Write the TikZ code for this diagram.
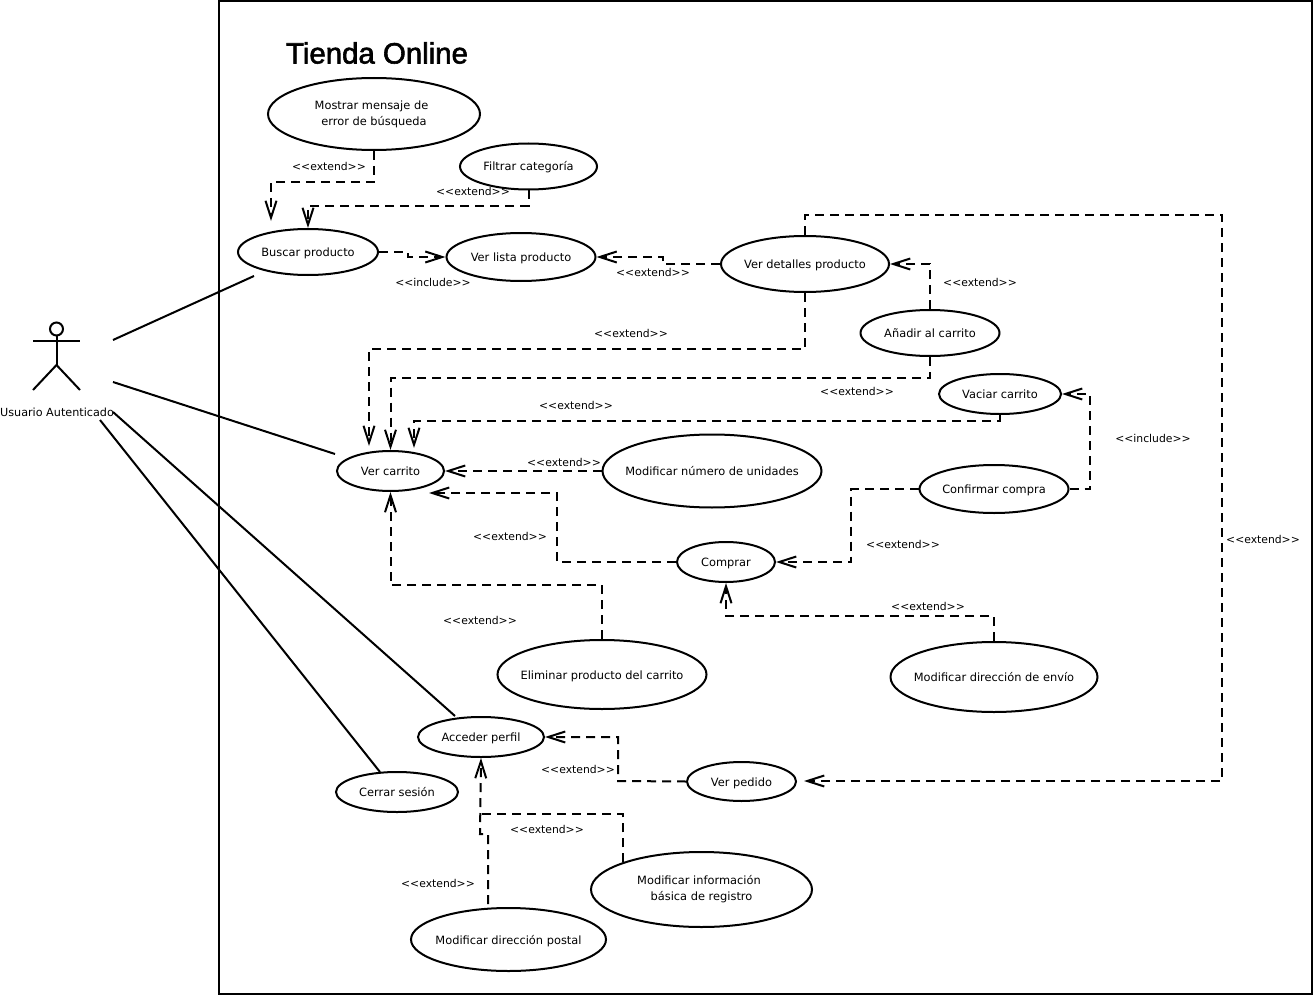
\documentclass[tikz,border=0pt]{standalone}
\usepackage{fontspec}
\setmainfont{DejaVu Sans}
\newfontfamily\titlefont[FakeBold=2]{Liberation Sans}
\usetikzlibrary{shapes.geometric,arrows.meta}
\newcommand{\stereotype}[1]{<{}<#1>{}>}
\tikzset{
  usecase/.style={draw,ellipse,line width=2pt,inner ysep=0pt,inner xsep=-20pt,align=center,font=\fontsize{11.4}{16}\selectfont},
  singlecase/.style={usecase,text height=10pt,text depth=1pt},
  assoc/.style={line width=2pt},
  depline/.style={line width=2pt,dash pattern=on 9pt off 6pt,-{Straight Barb[length=17pt,width=11pt,line width=2pt]}},
  deplabel/.style={inner sep=0pt,font=\fontsize{10.8}{14}\selectfont},
  actorlabel/.style={inner sep=0pt,font=\fontsize{11.2}{14}\selectfont}
}
\begin{document}
\begin{tikzpicture}[x=1pt,y=-1pt]
\useasboundingbox (0,0) rectangle (1314,995);
\draw [line width=2pt] (219,1) rectangle (1312,994);
\node (title) at (377,53) [inner sep=0pt,font=\titlefont\fontsize{29.4}{32}\selectfont] {Tienda Online};

     %actor:
\begin{scope}[line width=2pt]
\draw (56.5,329) circle (6.5);
\draw (33,340.5) -- (80,340.5);
\draw (56.5,335.5) -- (56.5,365);
\draw (33,390) -- (56.5,365) -- (80,390);
\end{scope}
\node (usuario) at (57,412) [actorlabel] {Usuario Autenticado};

     %use cases:
\node (mostrar) at (374,114) [usecase,minimum width=212,minimum height=72] {Mostrar mensaje de\rule{5pt}{0pt}\\ error de búsqueda};
\node (filtrar) at (528.5,166.5) [singlecase,minimum width=137,minimum height=46] {Filtrar categoría};
\node (buscar) at (308,252) [singlecase,minimum width=140,minimum height=46] {Buscar producto};
\node (lista) at (521,257) [singlecase,minimum width=149,minimum height=48] {Ver lista producto};
\node (detalles) at (805,264) [singlecase,minimum width=168,minimum height=56] {Ver detalles producto};
\node (anadir) at (930,333) [singlecase,minimum width=139,minimum height=46] {Añadir al carrito};
\node (vaciar) at (1000,394) [singlecase,minimum width=122,minimum height=40] {Vaciar carrito};
\node (carrito) at (390.5,471) [singlecase,minimum width=107,minimum height=40] {Ver carrito};
\node (unidades) at (712,471) [singlecase,minimum width=219,minimum height=73] {Modificar número de unidades};
\node (confirmar) at (994,489) [singlecase,minimum width=149,minimum height=48] {Confirmar compra};
\node (comprar) at (726,562) [singlecase,minimum width=98,minimum height=40] {Comprar};
\node (eliminar) at (602,674.5) [singlecase,minimum width=209,minimum height=69] {Eliminar producto del carrito};
\node (envio) at (994,677) [singlecase,minimum width=207,minimum height=70] {Modificar dirección de envío};
\node (acceder) at (481,737) [singlecase,minimum width=126,minimum height=40] {Acceder perfil};
\node (pedido) at (741.5,781.5) [singlecase,minimum width=109,minimum height=39] {Ver pedido};
\node (cerrar) at (397,792) [singlecase,minimum width=122,minimum height=40] {Cerrar sesión};
\node (registro) at (701.5,889.5) [usecase,minimum width=221,minimum height=75] {Modificar información\rule{5pt}{0pt}\\ básica de registro};
\node (postal) at (508.5,939.5) [singlecase,minimum width=195,minimum height=63] {Modificar dirección postal};

     %free ends:
\coordinate (actorbuscar) at (113,340);
\coordinate (actorcarrito) at (113,382);
\coordinate (actoracceder) at (113,412);
\coordinate (actorcerrar) at (100,420);
\coordinate (buscarend) at (254,276);
\coordinate (carritoend) at (335,454);
\coordinate (accederend) at (455,716);
\coordinate (cerrarend) at (380,772);
\coordinate (mostrartip) at (271,221);
\coordinate (detallestip) at (369,446);
\coordinate (vaciartip) at (414,448);
\coordinate (compratip) at (429,493);
\coordinate (pedidotip) at (804,781);
\coordinate (postalstart) at (488,904);

\draw [assoc] (actorbuscar) -- (buscarend);
\draw [assoc] (actorcarrito) -- (carritoend);
\draw [assoc] (actoracceder) -- (accederend);
\draw [assoc] (actorcerrar) -- (cerrarend);

     %dependencies:
\draw [depline] (mostrar.south) |- (322,182) -| (mostrartip);
\draw [depline] (filtrar.south) |- (312,206) -- (308,206) -- (buscar.north);
\draw [depline] (buscar.east) -- (408,252) |- (lista.west);
\draw [depline] (detalles.west) -- (663,264) |- (lista.east);
\draw [depline] (anadir.north) |- (detalles.east);
\draw [depline] (detalles.south) |- (600,349) -| (detallestip);
\draw [depline] (anadir.south) |- (600,378) -| (carrito.north);
\draw [depline] (vaciar.south) |- (600,421) -| (vaciartip);
\draw [depline] (unidades.west) -- (carrito.east);
\draw [depline] (comprar.west) -- (557,562) |- (compratip);
\draw [depline] (eliminar.north) |- (500,585) -| (carrito.south);
\draw [depline] (confirmar.west) -- (851,489) |- (comprar.east);
\draw [depline] (confirmar.east) -- (1090,489) |- (vaciar.east);
\draw [depline] (envio.north) |- (850,616) -| (comprar.south);
\draw [depline] (detalles.north) |- (1222,215) |- (pedidotip);
\draw [depline] (pedido.west) -- (618,781) |- (acceder.east);
\draw [depline] (postalstart) |- (480,834) -- (acceder.south);
\draw [depline,-] (registro.161) |- (480,814);

     %labels:
\node (l1) at (329,166) [deplabel] {\stereotype{extend}};
\node (l2) at (473,191) [deplabel] {\stereotype{extend}};
\node (l3) at (433,282) [deplabel] {\stereotype{include}};
\node (l4) at (653,272) [deplabel] {\stereotype{extend}};
\node (l5) at (980,282) [deplabel] {\stereotype{extend}};
\node (l6) at (631,333) [deplabel] {\stereotype{extend}};
\node (l7) at (857,391) [deplabel] {\stereotype{extend}};
\node (l8) at (576,405) [deplabel] {\stereotype{extend}};
\node (l9) at (564,462) [deplabel] {\stereotype{extend}};
\node (l10) at (1153,438) [deplabel] {\stereotype{include}};
\node (l11) at (510,536) [deplabel] {\stereotype{extend}};
\node (l12) at (903,544) [deplabel] {\stereotype{extend}};
\node (l13) at (480,620) [deplabel] {\stereotype{extend}};
\node (l14) at (928,606) [deplabel] {\stereotype{extend}};
\node (l15) at (1263,539) [deplabel] {\stereotype{extend}};
\node (l16) at (578,769) [deplabel] {\stereotype{extend}};
\node (l17) at (547,829) [deplabel] {\stereotype{extend}};
\node (l18) at (438,883) [deplabel] {\stereotype{extend}};
\end{tikzpicture}
\end{document}
